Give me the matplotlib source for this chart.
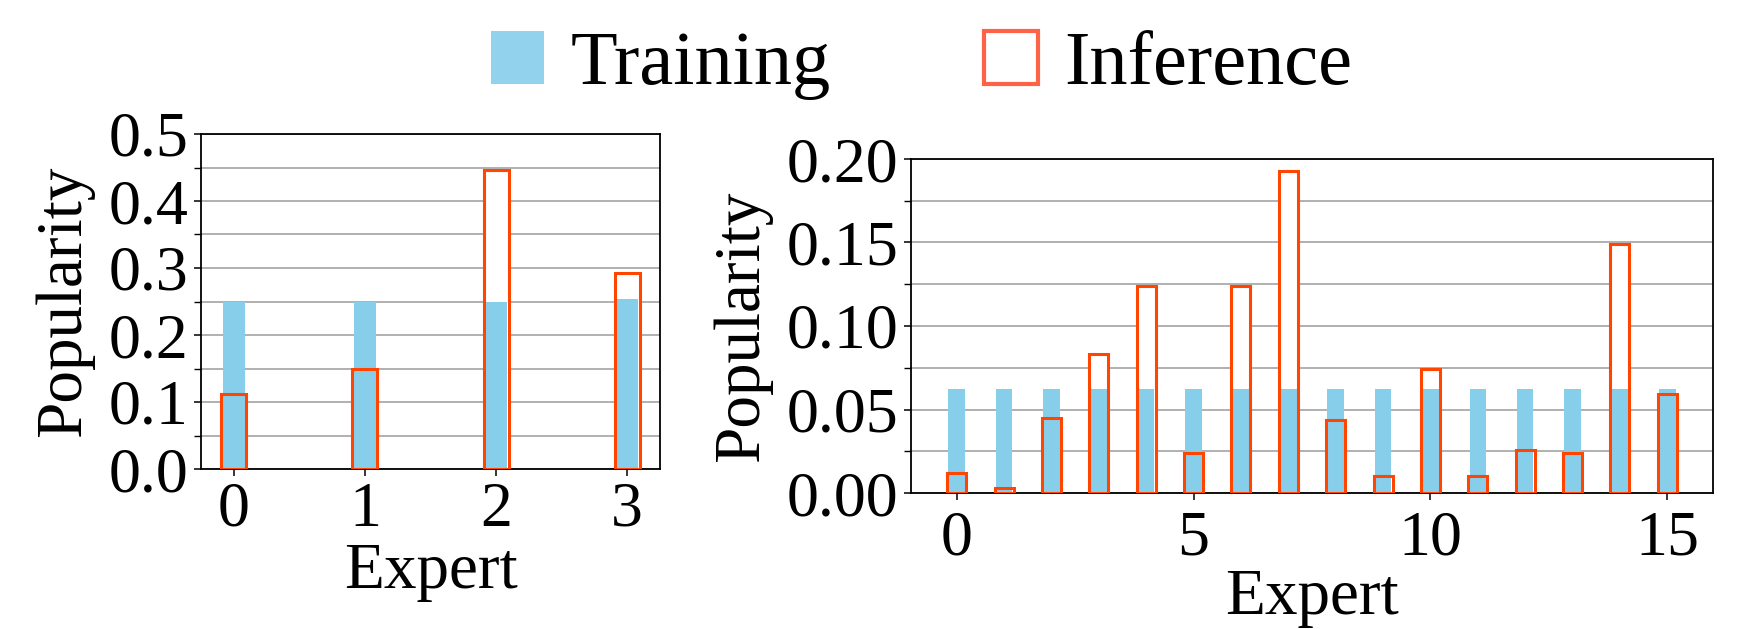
import matplotlib
matplotlib.use("Agg")
import matplotlib.pyplot as plt
import matplotlib.ticker as mticker
from matplotlib.patches import Patch

plt.rcParams['font.family'] = 'serif'
plt.rcParams['font.serif'] = ['Liberation Serif', 'Times New Roman', 'DejaVu Serif']

# ---- data ----
experts_a = [0, 1, 2, 3]
training_a = [0.249, 0.249, 0.249, 0.253]
inference_a = [0.112, 0.149, 0.447, 0.292]

experts_b = list(range(16))
training_b = [0.0625] * 16
inference_b = [0.012, 0.003, 0.045, 0.083, 0.124, 0.024, 0.124, 0.193,
               0.044, 0.010, 0.074, 0.010, 0.026, 0.024, 0.149, 0.059]

xticks_a = [0, 1, 2, 3]
xticks_b = [0, 5, 10, 15]

BLUE = '#87CEEB'
ORANGE = '#FF4500'

W, H = 1742, 629
fig = plt.figure(figsize=(W / 100, H / 100), dpi=100)

def px_axes(x0, y0, x1, y1):
    return fig.add_axes([x0 / W, 1 - y1 / H, (x1 - x0) / W, (y1 - y0) / H])

ax1 = px_axes(201, 134, 660, 469)
ax2 = px_axes(911, 159, 1713, 493)

TICK_FS = 46
LABEL_FS = 47

def draw(ax, xs, tr, inf, w_blue, w_or, ylim, major, minor, fmt, xticks, xlim,
         xpad, xlabelpad):
    ax.bar(xs, inf, width=w_or, color='white', edgecolor='none', zorder=2)
    ax.bar(xs, tr, width=w_blue, color=BLUE, edgecolor='none', zorder=3)
    ax.bar(xs, inf, width=w_or, facecolor='none', edgecolor=ORANGE,
           linewidth=2.2, zorder=4)
    ax.set_ylim(*ylim)
    ax.set_xlim(*xlim)
    ax.yaxis.set_major_locator(mticker.MultipleLocator(major))
    ax.yaxis.set_minor_locator(mticker.MultipleLocator(minor))
    ax.yaxis.set_major_formatter(mticker.FormatStrFormatter(fmt))
    ax.set_xticks(xticks)
    ax.grid(axis='y', which='both', color='#b0b0b0', linewidth=1.4, zorder=0)
    ax.set_axisbelow(True)
    ax.tick_params(axis='both', which='major', labelsize=TICK_FS, length=5.3,
                   width=1.1, pad=4)
    ax.tick_params(axis='x', which='major', pad=xpad)
    ax.tick_params(axis='y', which='minor', length=5.0, width=1.0)
    for s in ax.spines.values():
        s.set_linewidth(1.3)
    ax.set_ylabel('Popularity', fontsize=LABEL_FS, labelpad=10)
    ax.set_xlabel('Expert', fontsize=LABEL_FS, labelpad=xlabelpad)

draw(ax1, experts_a, training_a, inference_a, 0.165, 0.19, (0, 0.5), 0.1, 0.05,
     '%.1f', xticks_a, (-0.25, 3.25), 4, 2)
draw(ax2, experts_b, training_b, inference_b, 0.35, 0.4, (0, 0.2), 0.05, 0.025,
     '%.2f', xticks_b, (-0.965, 15.965), 7, 0)

handles = [Patch(facecolor=BLUE, edgecolor='none', alpha=0.9, label='Training'),
           Patch(facecolor='white', edgecolor='#FF6347', linewidth=3.0, label='Inference')]
fig.legend(handles=handles, loc='upper center', bbox_to_anchor=(0.529, 1.06),
           ncol=2, frameon=False, fontsize=55, handlelength=0.7, handleheight=0.7,
           handletextpad=0.35, columnspacing=2.0)

fig.savefig('out.png', dpi=100)
